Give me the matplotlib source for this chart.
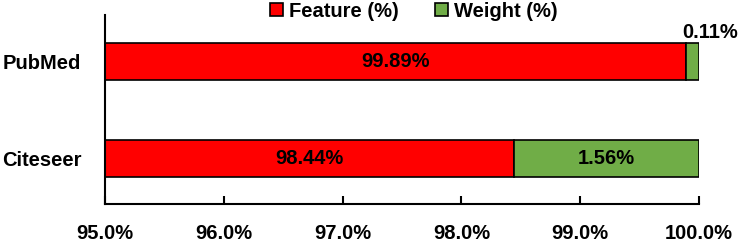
import matplotlib
matplotlib.use('Agg')
import matplotlib.pyplot as plt
from matplotlib.ticker import FuncFormatter

datasets = ['Citeseer', 'PubMed']
feature = [98.44, 99.89]
weight = [1.56, 0.11]
xticks = [95.0, 96.0, 97.0, 98.0, 99.0, 100.0]

plt.rcParams['font.family'] = ['Liberation Sans', 'DejaVu Sans']
plt.rcParams['font.weight'] = 'bold'
fs = 14.5

fig = plt.figure(figsize=(7.47, 2.45), dpi=100)
ax = fig.add_axes([0.1406, 0.167, 0.795, 0.771])

ypos = list(range(len(datasets)))
h = 0.38
b1 = ax.barh(ypos, feature, height=h, color='#FF0000', edgecolor='black', linewidth=1.2, label='Feature (%)')
b2 = ax.barh(ypos, weight, left=feature, height=h, color='#70AD47', edgecolor='black', linewidth=1.2, label='Weight (%)')

ax.set_xlim(95.0, 100.0)
ax.set_ylim(-0.47, 1.48)
ax.set_xticks(xticks)
ax.xaxis.set_major_formatter(FuncFormatter(lambda v, p: '%.1f%%' % v))
ax.set_yticks(ypos)
ax.set_yticklabels(datasets)
ax.tick_params(axis='x', direction='in', length=6, width=1.5, pad=14.5, labelsize=fs)
ax.tick_params(axis='y', length=0, pad=17, labelsize=fs)
for lab in ax.get_xticklabels() + ax.get_yticklabels():
    lab.set_fontweight('bold')

for s in ['top', 'right']:
    ax.spines[s].set_visible(False)
for s in ['left', 'bottom']:
    ax.spines[s].set_linewidth(1.5)

# value labels
ax.text((95.0 + feature[0]) / 2, 0, '%.2f%%' % feature[0], ha='center', va='center', fontsize=fs, fontweight='bold')
ax.text(feature[0] + weight[0] / 2, 0, '%.2f%%' % weight[0], ha='center', va='center', fontsize=fs, fontweight='bold')
ax.text((95.0 + feature[1]) / 2, 1, '%.2f%%' % feature[1], ha='center', va='center', fontsize=fs, fontweight='bold')
ax.annotate('%.2f%%' % weight[1], xy=(100.0, 1 + h / 2), xytext=(8, 1), textcoords='offset points',
            ha='center', va='bottom', fontsize=fs, fontweight='bold', annotation_clip=False)

leg = fig.legend(handles=[b1, b2], loc='center', bbox_to_anchor=(0.554, 0.955), ncol=2, frameon=False,
                 fontsize=fs, handlelength=0.65, handleheight=0.65, handletextpad=0.3, columnspacing=1.8,
                 borderpad=0, borderaxespad=0)
for t in leg.get_texts():
    t.set_fontweight('bold')

fig.savefig('out.png', dpi=100)
